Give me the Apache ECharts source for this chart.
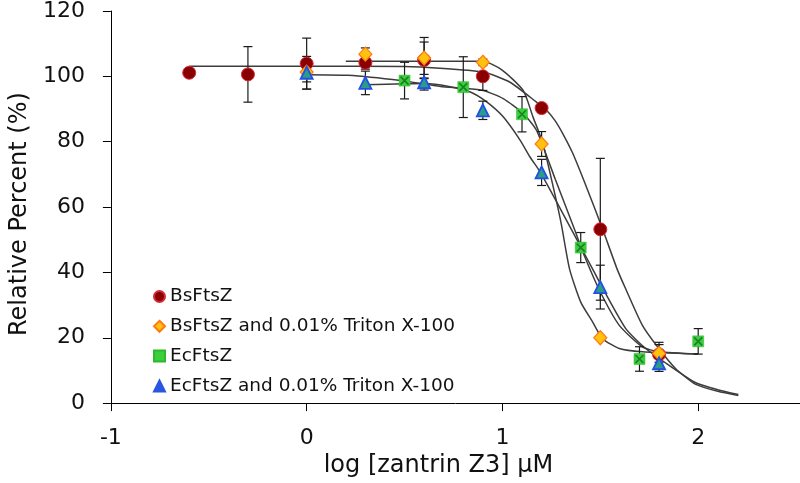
<!DOCTYPE html>
<html>
<head>
<meta charset="utf-8">
<script src="https://cdn.jsdelivr.net/npm/echarts@6/dist/echarts.min.js"></script>
<style>
html,body{margin:0;padding:0;background:#fff;}
#chart{width:800px;height:483px;}
</style>
</head>
<body>
<div id="chart"></div>
<script>
// ---- data ----
const xTicks = [-1, 0, 1, 2];
const seriesNames = ['BsFtsZ', 'BsFtsZ and 0.01% Triton X-100', 'EcFtsZ', 'EcFtsZ and 0.01% Triton X-100'];

const bsX   = [-0.6, -0.3, 0, 0.3, 0.6, 0.9, 1.2, 1.5, 1.8];
const bsY   = [101.1, 100.6, 103.9, 104.2, 105.0, 100.0, 90.3, 53.2, 14.9];
const bsErr = [0, 8.5, 7.8, 2, 5.5, 4.3, 1, 21.7, 3.7];

const bsTxX   = [0, 0.3, 0.6, 0.9, 1.2, 1.5, 1.8];
const bsTxY   = [101.3, 106.8, 105.6, 104.3, 79.3, 20.0, 15.2];
const bsTxErr = [3, 1.9, 6.3, 1, 3.8, 0, 2.7];

const ecX   = [0.5, 0.8, 1.1, 1.4, 1.7, 2.0];
const ecY   = [98.7, 96.7, 88.4, 47.6, 13.5, 18.9];
const ecErr = [5.6, 9.3, 5.4, 4.6, 3.75, 3.9];

const ecTxX   = [0, 0.3, 0.6, 0.9, 1.2, 1.5, 1.8];
const ecTxY   = [101.1, 98.0, 98.2, 89.6, 70.6, 35.5, 12.2];
const ecTxErr = [5, 3.6, 2.4, 2.8, 4, 6.7, 2.5];

// fitted curves
const bsFitX = [-0.6, 0.0, 0.5, 0.902, 1.039, 1.174, 1.225, 1.267, 1.308, 1.358, 1.43, 1.512, 1.586, 1.63, 1.715, 1.799, 1.884, 1.985, 2.1, 2.205];
const bsFitY = [103.1, 103.1, 103.0, 101.3, 98.2, 92.1, 89.6, 86.6, 82.5, 76.6, 66, 53.2, 41, 34.9, 23.8, 16.7, 10.6, 5.8, 3.6, 2.3];

const bsTxFitX = [0.2, 0.9, 0.997, 1.106, 1.156, 1.206, 1.26, 1.30, 1.343, 1.40, 1.461, 1.512, 1.597, 1.715, 2.0];
const bsTxFitY = [104.6, 104.6, 102.0, 95.7, 87.6, 79.6, 66, 55, 41, 30.9, 24.8, 19.7, 16.7, 15.7, 15.0];

const ecFitX = [0, 0.21, 0.48, 0.684, 0.794, 0.902, 1.004, 1.105, 1.174, 1.27, 1.368, 1.419, 1.5, 1.597, 1.715, 1.799, 2.0];
const ecFitY = [100.5, 100.3, 98.7, 96.9, 96.4, 95.7, 93.2, 88.7, 83.5, 68.5, 53.2, 45, 34, 23.8, 17.2, 15.7, 15.0];

const ecTxFitX = [0.295, 0.605, 0.72, 0.836, 0.921, 1.004, 1.09, 1.14, 1.191, 1.3, 1.4, 1.461, 1.509, 1.63, 1.732, 1.85, 1.985, 2.1, 2.205];
const ecTxFitY = [97.4, 97.8, 97.0, 95.2, 92.1, 87.6, 80.5, 75.4, 70.9, 59, 47.8, 41, 35.5, 22.8, 16.7, 11.6, 6.3, 4.1, 2.6];

// ---- helpers ----
const zip = (xs, ys) => xs.map((x, i) => [x, ys[i]]);
const zip3 = (xs, ys, es) => xs.map((x, i) => [x, ys[i], es[i]]);
const FONT = 'DejaVu Sans, Verdana, sans-serif';

function errSeries(xs, ys, es) {
  return {
    type: 'custom',
    silent: true,
    z: 3,
    data: zip3(xs, ys, es).filter(d => d[2] > 0),
    renderItem: function (params, api) {
      const x = api.value(0), y = api.value(1), e = api.value(2);
      const top = api.coord([x, y + e]);
      const bot = api.coord([x, y - e]);
      const hw = 4.5;
      const st = { stroke: '#1a1a1a', lineWidth: 1.2 };
      return {
        type: 'group',
        children: [
          { type: 'line', shape: { x1: top[0], y1: top[1], x2: bot[0], y2: bot[1] }, style: st },
          { type: 'line', shape: { x1: top[0] - hw, y1: top[1], x2: top[0] + hw, y2: top[1] }, style: st },
          { type: 'line', shape: { x1: bot[0] - hw, y1: bot[1], x2: bot[0] + hw, y2: bot[1] }, style: st }
        ]
      };
    }
  };
}
function fitSeries(xs, ys) {
  return {
    type: 'line', silent: true, z: 2,
    data: zip(xs, ys), showSymbol: false, symbol: 'none',
    smooth: 0.2,
    lineStyle: { color: '#3d3d3d', width: 1.5 }
  };
}

const chart = echarts.init(document.getElementById('chart'));
const option = {
  animation: false,
  backgroundColor: '#ffffff',
  textStyle: { fontFamily: FONT },
  grid: { left: 108, right: 0, top: 10, bottom: 78 },
  legend: {
    orient: 'vertical',
    left: 148, top: 282,
    itemWidth: 11, itemHeight: 11, itemGap: 10.8,
    textStyle: { fontFamily: FONT, fontSize: 18.5, color: '#111' },
    data: [
      { name: seriesNames[0], icon: 'circle' },
      { name: seriesNames[1], icon: 'diamond' },
      { name: seriesNames[2], icon: 'rect' },
      { name: seriesNames[3], icon: 'triangle', itemStyle: { color: '#2a56e0', borderColor: '#2a56e0' } }
    ]
  },
  xAxis: {
    type: 'value', min: -1, max: 2.52, interval: 1,
    name: 'log [zantrin Z3] μM', nameLocation: 'middle', nameGap: 50,
    nameTextStyle: { fontFamily: FONT, fontSize: 24, color: '#111', padding: [0, 34, 0, 0] },
    axisLine: { show: true, onZero: false, lineStyle: { color: '#000', width: 1 } },
    axisTick: { show: true, length: 8, inside: false, customValues: xTicks, lineStyle: { color: '#000' } },
    axisLabel: { customValues: xTicks, fontFamily: FONT, fontSize: 22, color: '#111', margin: 24 },
    splitLine: { show: false }
  },
  yAxis: {
    type: 'value', min: 0, max: 120, interval: 20,
    name: 'Relative Percent (%)', nameLocation: 'middle', nameGap: 77, nameRotate: 90,
    nameTextStyle: { fontFamily: FONT, fontSize: 24, color: '#111', padding: [0, 14, 0, 0] },
    axisLine: { show: true, onZero: false, lineStyle: { color: '#000', width: 1 } },
    axisTick: { show: true, length: 8, inside: false, lineStyle: { color: '#000' } },
    axisLabel: { fontFamily: FONT, fontSize: 22, color: '#111', margin: 26 },
    splitLine: { show: false }
  },
  series: [
    fitSeries(bsFitX, bsFitY),
    fitSeries(bsTxFitX, bsTxFitY),
    fitSeries(ecFitX, ecFitY),
    fitSeries(ecTxFitX, ecTxFitY),
    errSeries(bsX, bsY, bsErr),
    errSeries(bsTxX, bsTxY, bsTxErr),
    errSeries(ecX, ecY, ecErr),
    errSeries(ecTxX, ecTxY, ecTxErr),
    {
      name: seriesNames[0], type: 'scatter', z: 5, data: zip(bsX, bsY),
      symbol: 'circle', symbolSize: 13,
      itemStyle: { color: '#8a0000', borderColor: '#d42a3a', borderWidth: 1, opacity: 1 }
    },
    {
      name: seriesNames[1], type: 'scatter', z: 5, data: zip(bsTxX, bsTxY),
      symbol: 'diamond', symbolSize: [13, 14],
      itemStyle: { color: '#ffc20e', borderColor: '#ff7a10', borderWidth: 1.2, opacity: 1 }
    },
    {
      name: seriesNames[2], type: 'scatter', z: 5, data: zip(ecX, ecY),
      symbol: 'rect', symbolSize: 11,
      itemStyle: { color: '#3ccf3c', borderColor: '#2db82d', borderWidth: 0.5, opacity: 1 }
    },
    {
      name: 'ecMark', type: 'scatter', z: 6, data: zip(ecX, ecY), silent: true,
      symbol: 'path://M0,0 L10,10 M10,0 L0,10', symbolSize: 8,
      itemStyle: { color: 'rgba(0,0,0,0)', borderColor: '#1c7d2a', borderWidth: 1.6, opacity: 1 }
    },
    {
      name: seriesNames[3], type: 'scatter', z: 5, data: zip(ecTxX, ecTxY),
      symbol: 'triangle', symbolSize: [12, 12],
      itemStyle: { color: '#2b9c86', borderColor: '#2050e8', borderWidth: 1.8, opacity: 1 }
    }
  ]
};
chart.setOption(option);
</script>
</body>
</html>
